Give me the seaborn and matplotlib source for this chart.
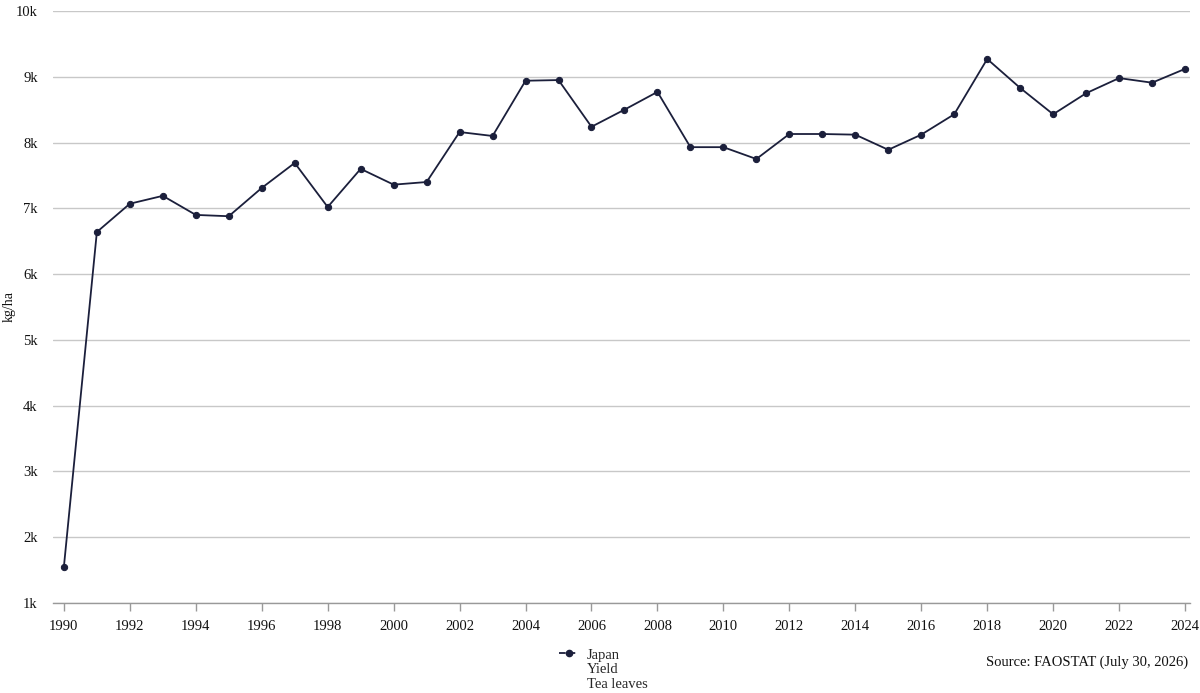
import matplotlib
matplotlib.use("Agg")
import matplotlib.pyplot as plt
from matplotlib.lines import Line2D
import seaborn as sns
import pandas as pd

years = list(range(1990, 2025))
yield_kg_ha = [1550, 6640, 7070, 7190, 6900, 6880, 7310, 7690, 7020, 7600,
               7360, 7400, 8160, 8100, 8940, 8950, 8240, 8500, 8770, 7930,
               7930, 7750, 8130, 8130, 8120, 7890, 8120, 8430, 9270, 8830,
               8430, 8750, 8980, 8910, 9120]
y_ticks = [1000, 2000, 3000, 4000, 5000, 6000, 7000, 8000, 9000, 10000]
y_tick_labels = ["1k", "2k", "3k", "4k", "5k", "6k", "7k", "8k", "9k", "10k"]
x_ticks = list(range(1990, 2025, 2))
legend_lines = ["Japan", "Yield", "Tea leaves"]
source_text = "Source: FAOSTAT (July 30, 2026)"

df = pd.DataFrame({"year": years, "value": yield_kg_ha})

sns.set_theme(style="white")
plt.rcParams["font.family"] = ["Liberation Serif", "DejaVu Serif"]

W, H = 1200, 693
fig = plt.figure(figsize=(W / 100, H / 100), dpi=100)
ax = fig.add_axes([53 / W, 1 - 603 / H, (1190 - 53) / W, (603 - 11) / H])

line_color = "#1b1f3b"
sns.lineplot(data=df, x="year", y="value", ax=ax, color=line_color,
             linewidth=1.3, marker="o", markersize=4.5,
             markeredgecolor=line_color, markerfacecolor=line_color, zorder=3)

ax.set_xlim(1989.67, 2024.15)
ax.set_ylim(1000, 10000)
ax.set_yticks(y_ticks)
ax.set_yticklabels(y_tick_labels)
ax.set_xticks(x_ticks)
ax.set_xticklabels([str(t) for t in x_ticks])
ax.grid(axis="y", color="#c8c8c8", linewidth=1.0)
ax.grid(axis="x", visible=False)
for s in ["top", "right", "left"]:
    ax.spines[s].set_visible(False)
ax.spines["bottom"].set_color("#999999")
ax.spines["bottom"].set_linewidth(1.0)
ax.tick_params(axis="x", bottom=True, length=6, color="#999999", width=1,
               labelsize=10.5, pad=6, labelcolor="#111111")
ax.tick_params(axis="y", left=False, length=0, labelsize=10.5, pad=11,
               labelcolor="#111111")
ax.set_xlabel("")
ax.set_ylabel("kg/ha", fontsize=10, color="#111111")
ax.yaxis.set_label_coords(-37 / (1190 - 53), 0.5)

handles = [Line2D([0], [0], color=line_color, linewidth=1.3, marker="o",
                  markersize=4.5, linestyle="--"),
           Line2D([], [], linestyle="none"),
           Line2D([], [], linestyle="none")]
leg = fig.legend(handles, legend_lines, loc="upper left",
                 bbox_to_anchor=(552 / W, 1 - 641 / H), frameon=False,
                 fontsize=10.5, handlelength=1.3, handletextpad=0.6,
                 labelspacing=0.12, borderpad=0)

fig.text(1188 / W, 1 - 662 / H, source_text, ha="right", va="center",
         fontsize=10.5, color="#111111")

fig.savefig("out.png", dpi=100)
